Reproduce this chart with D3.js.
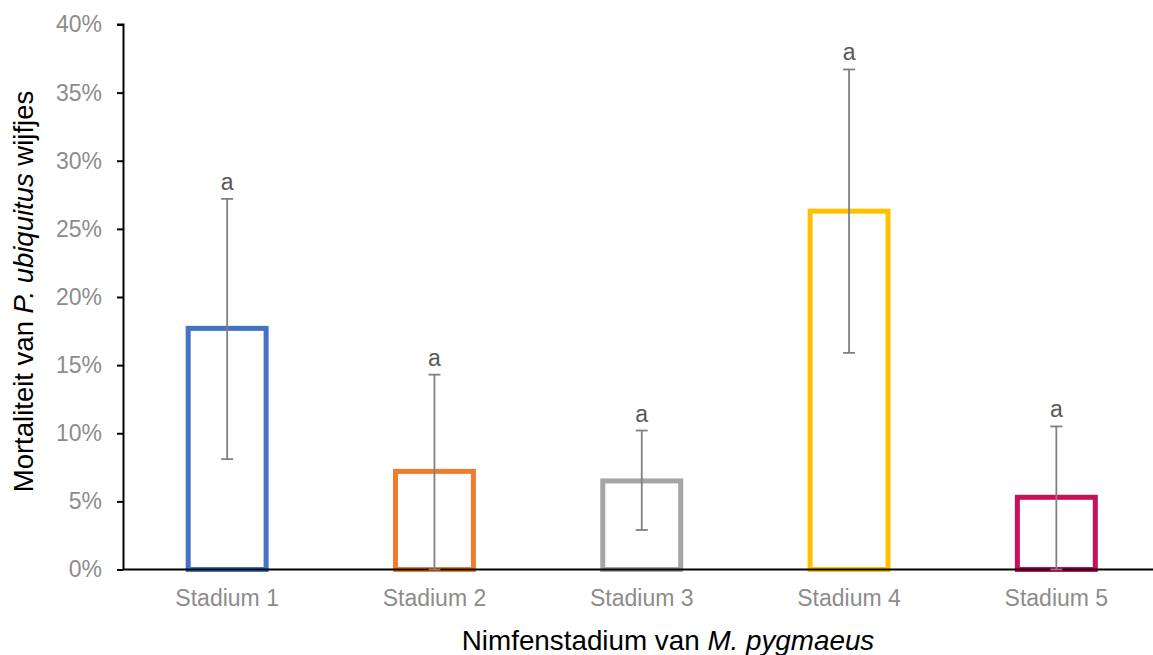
<!DOCTYPE html>
<html>
<head>
<meta charset="utf-8">
<script src="https://cdn.jsdelivr.net/npm/d3@7"></script>
<style>
  html, body { margin: 0; padding: 0; background: #fff; }
  svg { display: block; font-family: "Liberation Sans", Arial, sans-serif; }
</style>
</head>
<body>
<svg id="chart" width="1153" height="655"></svg>
<script>
const categories = ["Stadium 1", "Stadium 2", "Stadium 3", "Stadium 4", "Stadium 5"];
const values = [0.177, 0.072, 0.065, 0.263, 0.053];
const errLow = [0.081, 0.000, 0.029, 0.159, 0.000];
const errHigh = [0.272, 0.143, 0.102, 0.367, 0.105];
const letters = ["a", "a", "a", "a", "a"];
const colors = ["#4472C4", "#ED7D31", "#A5A5A5", "#FFC000", "#C8105A"];
const yTicks = [0, 0.05, 0.10, 0.15, 0.20, 0.25, 0.30, 0.35, 0.40];

const svg = d3.select("#chart");
const x0 = 123.5, x1 = 1160, yTop = 24.5, yBot = 569.5;

const x = d3.scaleBand().domain(categories).range([x0, x1]).paddingInner(0).paddingOuter(0);
const y = d3.scaleLinear().domain([0, 0.40]).range([yBot, yTop]);

const strokeW = 5;
const barW = x.bandwidth() * 0.4;

// Bars
svg.append("g").selectAll("rect").data(categories).join("rect")
  .attr("x", (d) => x(d) + (x.bandwidth() - barW) / 2 + strokeW / 2)
  .attr("width", barW - strokeW)
  .attr("y", (d, i) => y(values[i]))
  .attr("height", (d, i) => y(0) - y(values[i]))
  .attr("fill", "none")
  .attr("stroke", (d, i) => colors[i])
  .attr("stroke-width", strokeW);

// Y axis
const yAxis = d3.axisLeft(y).tickValues(yTicks).tickFormat(d3.format(".0%")).tickSize(6.5).tickPadding(15);
const gy = svg.append("g").attr("transform", `translate(${x0},0)`).call(yAxis);
gy.select(".domain").attr("stroke", "#000").attr("stroke-width", 2).attr("d", `M-6.5,${yTop}H0V${yBot}`);
gy.selectAll(".tick line").attr("stroke", "#000").attr("stroke-width", 2);
gy.selectAll(".tick text").attr("fill", "#8c8c8c").style("font-size", "23px")
  .style("font-family", "Liberation Sans, Arial, sans-serif");

// X axis
const xAxis = d3.axisBottom(x).tickSize(0).tickPadding(20);
const gx = svg.append("g").attr("transform", `translate(0,${yBot})`).call(xAxis);
gx.select(".domain").attr("stroke", "#000").attr("stroke-width", 2).attr("d", `M${x0},0H1153`);
gx.selectAll(".tick text").attr("fill", "#8c8c8c").style("font-size", "23px")
  .style("font-family", "Liberation Sans, Arial, sans-serif");

// Error bars
const eg = svg.append("g").attr("stroke", "#808080").attr("stroke-width", 1.8);
categories.forEach((c, i) => {
  const cx = x(c) + x.bandwidth() / 2;
  eg.append("line").attr("x1", cx).attr("x2", cx).attr("y1", y(errLow[i])).attr("y2", y(errHigh[i]));
  eg.append("line").attr("x1", cx - 6).attr("x2", cx + 6).attr("y1", y(errLow[i])).attr("y2", y(errLow[i]));
  eg.append("line").attr("x1", cx - 6).attr("x2", cx + 6).attr("y1", y(errHigh[i])).attr("y2", y(errHigh[i]));
});

// Letters
svg.append("g").selectAll("text").data(categories).join("text")
  .attr("x", (d) => x(d) + x.bandwidth() / 2)
  .attr("y", (d, i) => y(errHigh[i]) - 9)
  .attr("text-anchor", "middle")
  .attr("fill", "#595959")
  .style("font-size", "23px")
  .text((d, i) => letters[i]);

// Y title
const yt = svg.append("text")
  .attr("transform", `translate(33,${(88 + 495) / 2}) rotate(-90)`)
  .attr("text-anchor", "middle")
  .attr("fill", "#000")
  .style("font-size", "27.5px");
yt.append("tspan").text("Mortaliteit van ");
yt.append("tspan").style("font-style", "italic").text("P. ubiquitus");
yt.append("tspan").text(" wijfjes");

// X title
const xt = svg.append("text")
  .attr("x", 668)
  .attr("y", 650)
  .attr("text-anchor", "middle")
  .attr("fill", "#000")
  .style("font-size", "27.8px");
xt.append("tspan").text("Nimfenstadium van ");
xt.append("tspan").style("font-style", "italic").text("M. pygmaeus");
</script>
</body>
</html>
